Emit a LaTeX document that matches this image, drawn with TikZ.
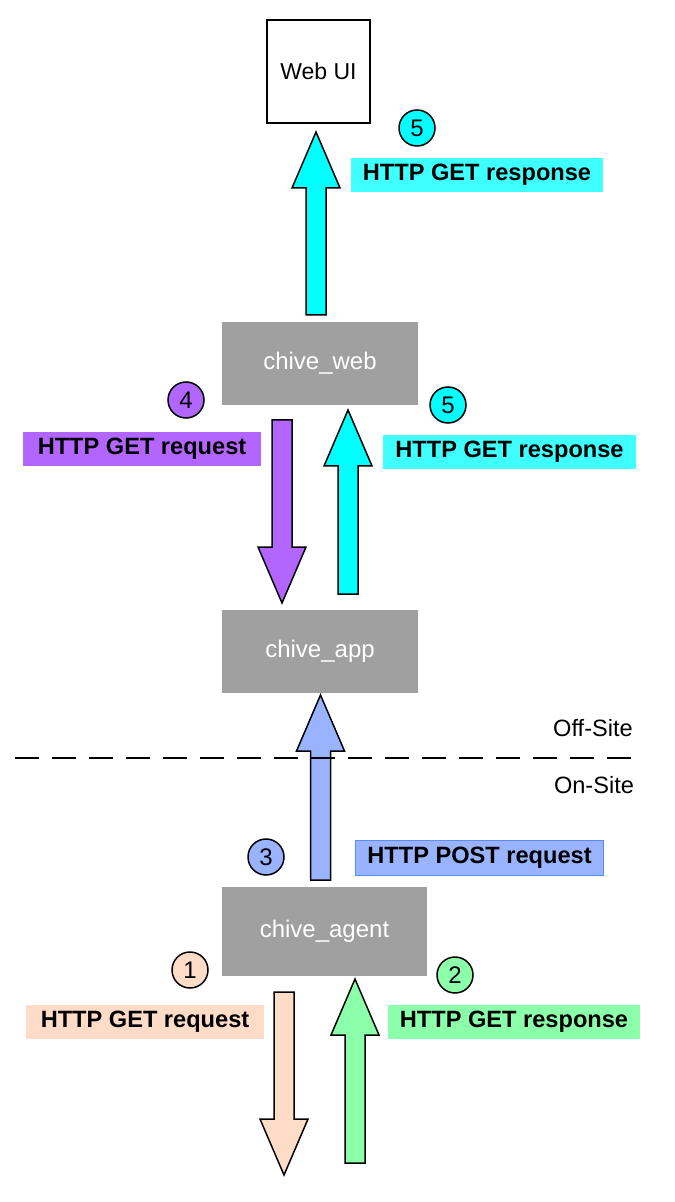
\documentclass[tikz,border=0pt]{standalone}
\usepackage{fontspec}
\setmainfont{Liberation Sans}
\usetikzlibrary{calc}

\definecolor{cajagris}{HTML}{A0A0A0}
\definecolor{cian}{HTML}{00FFFF}
\definecolor{ciantxt}{HTML}{40FFFF}
\definecolor{morado}{HTML}{B266FF}
\definecolor{azul}{HTML}{99B3FF}
\definecolor{azulborde}{HTML}{5B8CFF}
\definecolor{melocoton}{HTML}{FFDCC8}
\definecolor{verde}{HTML}{8CFFAA}

\tikzset{
  caja/.style={fill=cajagris, text=white, minimum width=98pt, minimum height=41.5pt, font=\fontsize{12}{14}\selectfont},
  etiqueta/.style={fill=#1, inner xsep=6pt, minimum height=16pt, font=\fontsize{11.8}{14}\selectfont\bfseries},
  paso/.style={circle, draw, line width=.75pt, fill=#1, minimum size=18pt, inner sep=0pt, font=\fontsize{12}{14}\selectfont},
  flecha/.style={draw, line width=.75pt, line join=miter}
}

% flecha gruesa vertical: color, cola, punta
\newcommand{\flechagorda}[3]{
  \draw[flecha, fill=#1] let \p1=(#2), \p2=(#3), \n1={sign(\y1-\y2)*28pt} in
    (\x1-5pt,\y1) -- (\x1-5pt,\y2+\n1) -- (\x1-12pt,\y2+\n1) -- (\x2,\y2)
    -- (\x1+12pt,\y2+\n1) -- (\x1+5pt,\y2+\n1) -- (\x1+5pt,\y1) -- cycle;
}

\begin{document}
\begin{tikzpicture}[x=0.5pt, y=-0.5pt]
  \useasboundingbox (0,0) rectangle (674,1202);

  % cajas
  \node[draw, line width=.75pt, minimum size=51.5pt, font=\fontsize{11.5}{14}\selectfont] (ui) at (318.5,71.5) {Web UI};
  \node[caja] (web) at (320,363.5) {chive\_web};
  \node[caja] (app) at (320,651) {chive\_app};
  \node[caja, minimum width=102.5pt, minimum height=44.5pt] (agent) at (324.5,931) {chive\_agent};

  % puntas y colas de las flechas
  \coordinate (c1) at (316,315);  \coordinate (p1) at (316,132);
  \coordinate (c2) at (282,420);  \coordinate (p2) at (282,603);
  \coordinate (c3) at (348,594);  \coordinate (p3) at (348,410);
  \coordinate (c4) at (320.5,880); \coordinate (p4) at (320.5,695);
  \coordinate (c5) at (284,992);  \coordinate (p5) at (284,1175);
  \coordinate (c6) at (355,1163); \coordinate (p6) at (355,979);

  \flechagorda{cian}{c1}{p1}
  \flechagorda{morado}{c2}{p2}
  \flechagorda{cian}{c3}{p3}
  \flechagorda{azul}{c4}{p4}
  \flechagorda{melocoton}{c5}{p5}
  \flechagorda{verde}{c6}{p6}

  % numeros
  \node[paso=cian] (n5a) at (417,128) {5};
  \node[paso=morado] (n4) at (186,400) {4};
  \node[paso=cian] (n5b) at (448,405) {5};
  \node[paso=azul] (n3) at (266,857) {3};
  \node[paso=melocoton] (n1) at (190,970) {1};
  \node[paso=verde] (n2) at (455,975) {2};

  % etiquetas
  \node[etiqueta=ciantxt] (l5a) at (477,175) {HTTP GET response};
  \node[etiqueta=morado, inner xsep=7.5pt] (l4) at (142,449) {HTTP GET request};
  \node[etiqueta=ciantxt] (l5b) at (509.5,452) {HTTP GET response};
  \node[etiqueta=azul, draw=azulborde, line width=.6pt, minimum height=15pt] (l3) at (479.5,858) {HTTP POST request};
  \node[etiqueta=melocoton, inner xsep=7.5pt, minimum height=15pt] (l1) at (145,1022) {HTTP GET request};
  \node[etiqueta=verde] (l2) at (514,1022) {HTTP GET response};

  % separacion
  \coordinate (izq) at (15,758);
  \coordinate (der) at (638,758);
  \draw[line width=.75pt, dash pattern=on 12pt off 6.5pt] (izq) -- (der);
  \node[font=\fontsize{11.8}{14}\selectfont] (off) at (593,728) {Off-Site};
  \node[font=\fontsize{11.8}{14}\selectfont] (on) at (594,785) {On-Site};
\end{tikzpicture}
\end{document}
